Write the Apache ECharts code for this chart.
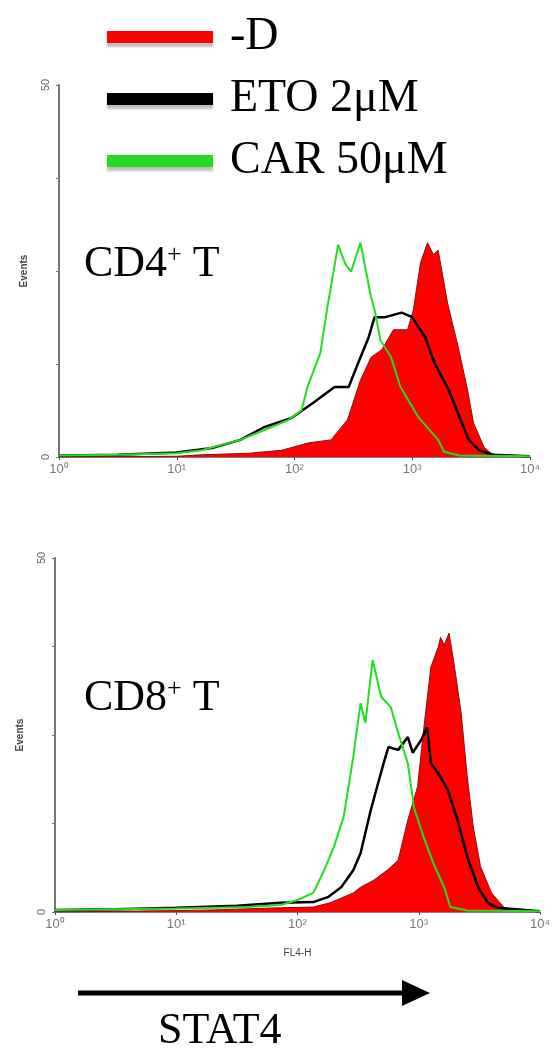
<!DOCTYPE html>
<html>
<head>
<meta charset="utf-8">
<script src="https://cdn.jsdelivr.net/npm/echarts@6/dist/echarts.min.js"></script>
<style>
  html, body { margin: 0; padding: 0; background: #fff; }
  #chart { width: 558px; height: 1050px; }
</style>
</head>
<body>
<div id="chart"></div>
<script>
    // x = log10(FL4-H) decade, y = events
    const decadeLabels = ['10⁰', '10¹', '10²', '10³', '10⁴'];
    const eventLabels = ['0', '', '', '', '50'];
    const seriesNames = ['-D', 'ETO 2μM', 'CAR 50μM'];

    // CD4+ T
    const cd4NoDrug = [[0, 0], [1.0, 0.1], [1.21, 0.3], [1.61, 0.5], [1.89, 0.9], [2.12, 1.9], [2.31, 2.3],
        [2.45, 5.0], [2.56, 10.3], [2.65, 13.4], [2.74, 14.4], [2.84, 17.1], [2.96, 17.1], [3.01, 19.8],
        [3.07, 26.1], [3.13, 28.8], [3.18, 27.2], [3.22, 27.8], [3.30, 20.7], [3.39, 14.8], [3.47, 9.0],
        [3.52, 4.6], [3.61, 1.3], [3.67, 0.5], [3.76, 0.1], [4, 0]];
    const cd4Eto = [[0, 0.2], [0.5, 0.3], [1.0, 0.6], [1.3, 1.2], [1.54, 2.3], [1.74, 4.0], [1.97, 5.2],
        [2.16, 7.3], [2.34, 9.4], [2.46, 9.4], [2.54, 12.6], [2.63, 16.1], [2.68, 18.8], [2.77, 18.8],
        [2.91, 19.4], [3.0, 18.8], [3.11, 16.1], [3.19, 12.6], [3.31, 9.0], [3.40, 5.4], [3.48, 2.3],
        [3.57, 0.9], [3.68, 0.3], [4, 0.1]];
    const cd4Car = [[0, 0.2], [0.5, 0.3], [1.0, 0.5], [1.21, 0.9], [1.54, 2.3], [1.74, 3.6], [1.95, 5.0],
        [2.06, 6.3], [2.11, 9.4], [2.22, 14.0], [2.28, 20.2], [2.37, 28.5], [2.43, 26.0], [2.48, 24.9],
        [2.56, 28.8], [2.65, 21.5], [2.68, 19.8], [2.73, 15.7], [2.82, 13.4], [2.90, 9.4], [3.05, 5.4],
        [3.22, 2.3], [3.27, 0.7], [3.4, 0.2], [4, 0.1]];

    // CD8+ T
    const cd8NoDrug = [[0, 0], [1.0, 0.2], [1.31, 0.3], [1.86, 0.6], [2.13, 0.7], [2.27, 1.3], [2.46, 2.7],
        [2.52, 3.5], [2.63, 4.5], [2.74, 5.9], [2.83, 7.3], [2.91, 13.0], [2.99, 17.7], [3.04, 25.7],
        [3.10, 34.6], [3.16, 37.4], [3.18, 38.8], [3.21, 37.7], [3.25, 39.4], [3.29, 35.2], [3.35, 28.1],
        [3.40, 19.1], [3.45, 12.0], [3.51, 6.4], [3.60, 2.7], [3.70, 0.7], [3.80, 0.1], [4, 0]];
    const cd8Eto = [[0, 0.3], [0.5, 0.4], [1.0, 0.6], [1.5, 0.9], [1.86, 1.3], [2.13, 1.4], [2.25, 2.1],
        [2.36, 3.5], [2.46, 5.9], [2.52, 8.3], [2.60, 14.1], [2.66, 17.9], [2.71, 21.0], [2.75, 23.3],
        [2.83, 22.9], [2.91, 24.7], [2.95, 22.5], [3.02, 24.3], [3.07, 26.1], [3.10, 21.0], [3.16, 19.6],
        [3.24, 17.2], [3.32, 13.0], [3.40, 7.8], [3.49, 3.5], [3.57, 1.3], [3.65, 0.6], [4, 0.1]];
    const cd8Car = [[0, 0.3], [0.5, 0.4], [1.0, 0.5], [1.31, 0.6], [1.59, 0.7], [1.86, 1.0], [2.0, 1.7],
        [2.13, 2.7], [2.21, 5.5], [2.30, 9.2], [2.38, 13.4], [2.46, 21.9], [2.52, 29.5], [2.56, 26.7],
        [2.62, 35.6], [2.69, 30.4], [2.77, 28.9], [2.83, 25.3], [2.91, 21.0], [2.96, 14.8], [3.04, 10.6],
        [3.12, 6.9], [3.21, 3.5], [3.26, 0.7], [3.4, 0.2], [4, 0.1]];

    const RED = '#ff0000';
    const GREEN = '#22dd22';
    const serif = '"Liberation Serif", "DejaVu Serif", serif';

    const chart = echarts.init(document.getElementById('chart'));

    function xAxis(gridIndex, name) {
        return {
            type: 'value', gridIndex: gridIndex, min: 0, max: 4, interval: 1,
            name: name, nameLocation: 'middle', nameGap: 36,
            nameTextStyle: {fontSize: 10, color: '#444', fontFamily: 'Liberation Sans'},
            axisLine: {lineStyle: {color: '#555', width: 1.5}},
            axisTick: {show: true, length: 3, lineStyle: {color: '#555'}},
            splitLine: {show: false},
            axisLabel: {
                fontSize: 13, color: '#777', fontFamily: 'Liberation Sans', margin: 6,
                formatter: v => decadeLabels[v]
            }
        };
    }

    function yAxis(gridIndex) {
        return {
            type: 'value', gridIndex: gridIndex, min: 0, max: 50, interval: 12.5,
            name: 'Events', nameLocation: 'middle', nameGap: 30, nameRotate: 90,
            nameTextStyle: {fontSize: 10, color: '#444', fontFamily: 'Liberation Sans', fontWeight: 'bold'},
            axisLine: {lineStyle: {color: '#777', width: 2}},
            axisTick: {show: true, length: 3, inside: false, lineStyle: {color: '#777'}},
            splitLine: {show: false},
            axisLabel: {
                fontSize: 11, color: '#666', fontFamily: 'Liberation Sans', rotate: 90, margin: 8,
                formatter: v => eventLabels[Math.round(v / 12.5)]
            }
        };
    }

    function histo(name, data, idx) {
        const base = {name: name, type: 'line', xAxisIndex: idx, yAxisIndex: idx, data: data,
            symbol: 'none', silent: true};
        if (name === seriesNames[0]) {
            return Object.assign(base, {
                itemStyle: {color: RED},
                lineStyle: {color: '#8a1010', width: 1},
                areaStyle: {color: RED, opacity: 1}
            });
        }
        if (name === seriesNames[1]) {
            return Object.assign(base, {itemStyle: {color: '#000'}, lineStyle: {color: '#000', width: 2.5}});
        }
        return Object.assign(base, {itemStyle: {color: GREEN}, lineStyle: {color: GREEN, width: 2}});
    }

    const swatchShadow = {shadowColor: 'rgba(0,0,0,0.25)', shadowOffsetY: 4, shadowBlur: 2};

    const option = {
        animation: false,
        backgroundColor: '#fff',
        legend: {
            orient: 'vertical', left: 107, top: 14, padding: 0, icon: 'rect',
            itemWidth: 106, itemHeight: 12, itemGap: 16,
            textStyle: {fontFamily: serif, fontSize: 46, color: '#000', padding: [0, 0, 0, 12]},
            data: [
                {name: seriesNames[0], itemStyle: Object.assign({color: RED}, swatchShadow)},
                {name: seriesNames[1], itemStyle: Object.assign({color: '#000'}, swatchShadow)},
                {name: seriesNames[2], itemStyle: Object.assign({color: GREEN}, swatchShadow)}
            ]
        },
        grid: [
            {left: 59, top: 85, width: 471, height: 372},
            {left: 55, top: 558, width: 485, height: 354}
        ],
        xAxis: [xAxis(0, ''), xAxis(1, 'FL4-H')],
        yAxis: [yAxis(0), yAxis(1)],
        series: [
            histo(seriesNames[0], cd4NoDrug, 0),
            histo(seriesNames[1], cd4Eto, 0),
            histo(seriesNames[2], cd4Car, 0),
            histo(seriesNames[0], cd8NoDrug, 1),
            histo(seriesNames[1], cd8Eto, 1),
            histo(seriesNames[2], cd8Car, 1)
        ],
        graphic: [
            {
                type: 'text', left: 84, top: 242,
                style: {text: 'CD4{s|+} T', font: '44px ' + serif, fill: '#000',
                    rich: {s: {fontSize: 26, fontFamily: serif, verticalAlign: 'top', padding: [0, 0, 18, 0]}}}
            },
            {
                type: 'text', left: 84, top: 676,
                style: {text: 'CD8{s|+} T', font: '44px ' + serif, fill: '#000',
                    rich: {s: {fontSize: 26, fontFamily: serif, verticalAlign: 'top', padding: [0, 0, 18, 0]}}}
            },
            {
                type: 'line', shape: {x1: 78, y1: 993, x2: 408, y2: 993},
                style: {stroke: '#000', lineWidth: 5}
            },
            {
                type: 'polygon', shape: {points: [[402, 980], [430, 993], [402, 1006]]},
                style: {fill: '#000'}
            },
            {
                type: 'text', left: 158, top: 1009,
                style: {text: 'STAT4', font: '44px ' + serif, fill: '#000'}
            }
        ]
    };

    chart.setOption(option);
</script>
</body>
</html>
